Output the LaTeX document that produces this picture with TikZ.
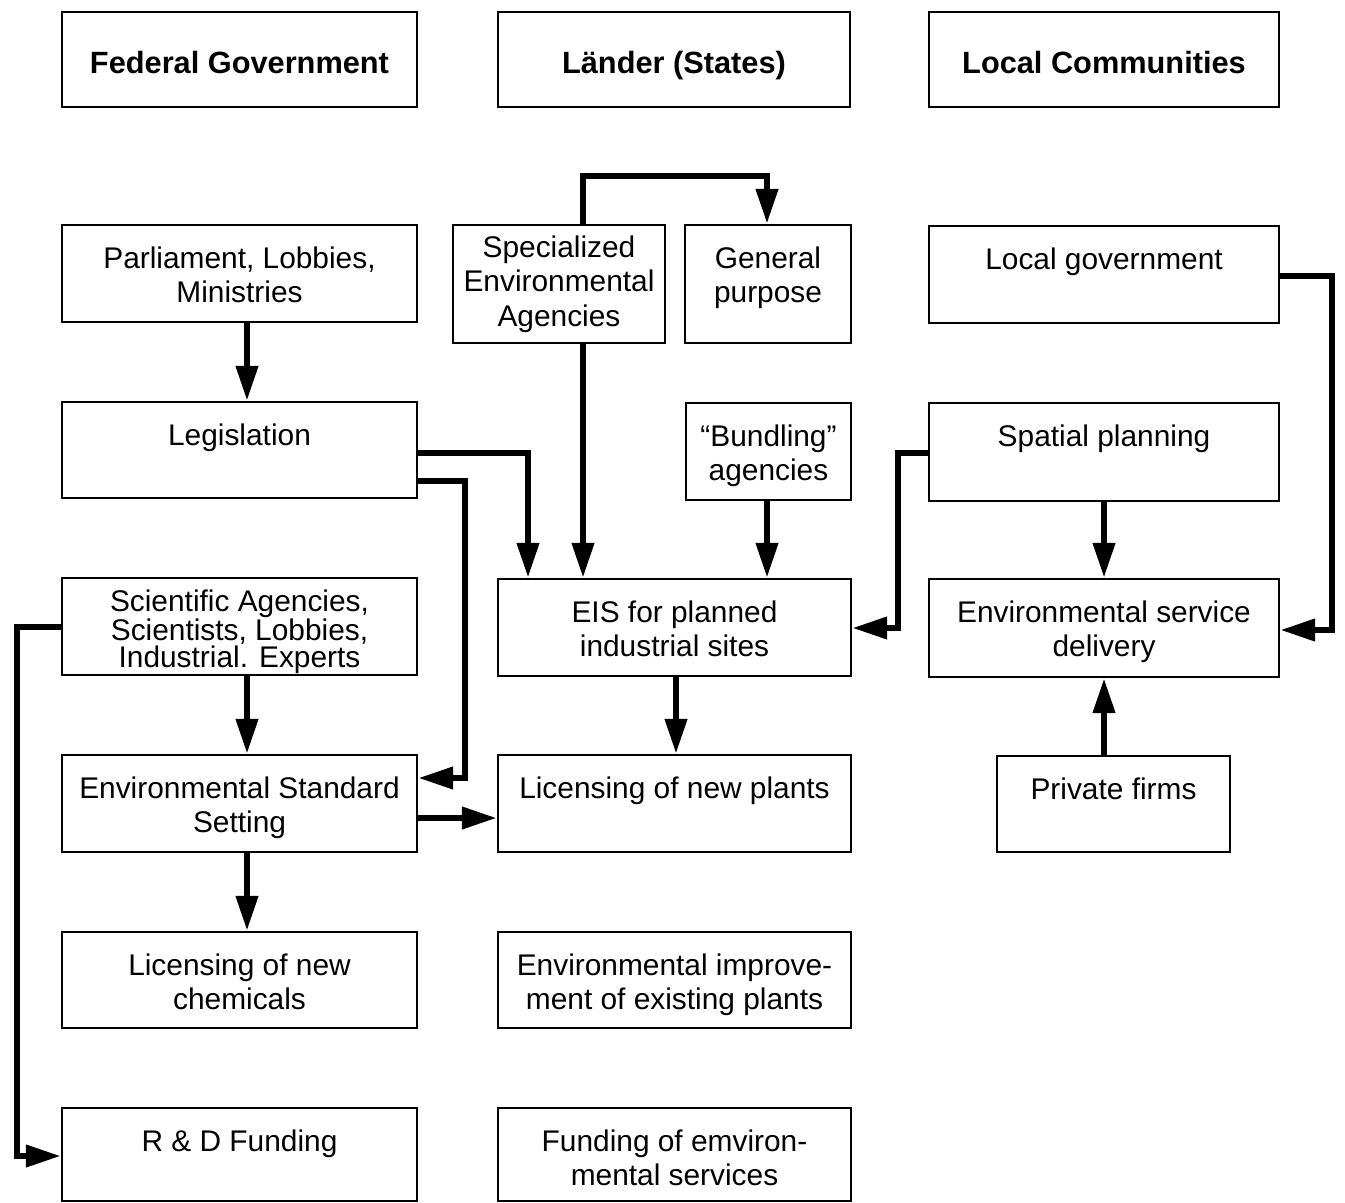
\documentclass[tikz,border=0pt]{standalone}
\usepackage{fontspec}
\setmainfont{Liberation Sans}
\usetikzlibrary{arrows.meta,fit}
\begin{document}
\begin{tikzpicture}[x=0.02cm,y=-0.02cm,
  box/.style={draw, line width=1.1pt, inner sep=0pt, rectangle},
  hlbl/.style={anchor=center, inner sep=0pt, yshift=-0.13cm,
               text height=12.5pt, text depth=3.5pt,
               font=\fontsize{17.5}{20}\selectfont\bfseries},
  lbl/.style={anchor=north, inner sep=0pt, align=center, yshift=-0.44cm,
              font=\fontsize{17}{19.8}\selectfont},
  arr/.style={line width=3.8pt, line join=miter,
              -{Triangle[length=20pt,width=12pt]}}]
\useasboundingbox (0,0) rectangle (1345,1203);

% column headers
\node[box, fit={(62,12) (417,107)}, label={[hlbl]center:{Federal Government}}]   (fed) {};
\node[box, fit={(498,12) (850,107)}, label={[hlbl]center:{Länder (States)}}]     (lan) {};
\node[box, fit={(929,12) (1279,107)}, label={[hlbl]center:{Local Communities}}]  (loc) {};

% federal column
\node[box, fit={(62,225) (417,322)}, label={[lbl]north:{Parliament, Lobbies,\\Ministries}}] (parl) {};
\node[box, fit={(62,402) (417,498)}, label={[lbl]north:{Legislation}}] (legis) {};
\node[box, fit={(62,578) (417,675)}, label={[lbl, yshift=0.2cm, font=\fontsize{17}{15.4}\selectfont]north:{Scientific Agencies,\\Scientists, Lobbies,\\Industrial. Experts}}] (sci) {};
\node[box, fit={(62,755) (417,852)}, label={[lbl]north:{Environmental Standard\\Setting}}] (std) {};
\node[box, fit={(62,932) (417,1028)}, label={[lbl]north:{Licensing of new\\chemicals}}] (chem) {};
\node[box, fit={(62,1108) (417,1201)}, label={[lbl]north:{R \& D Funding}}] (rd) {};

% state column
\node[box, fit={(453,225) (665,343)}, label={[lbl, yshift=0.22cm]north:{Specialized\\Environmental\\Agencies}}] (spec) {};
\node[box, fit={(685,225) (851,343)}, label={[lbl]north:{General\\purpose}}] (gen) {};
\node[box, fit={(686,403) (851,500)}, label={[lbl]north:{“Bundling”\\agencies}}] (bund) {};
\node[box, fit={(498,579) (851,676)}, label={[lbl]north:{EIS for planned\\industrial sites}}] (eis) {};
\node[box, fit={(498,755) (851,852)}, label={[lbl]north:{Licensing of new plants}}] (plants) {};
\node[box, fit={(498,932) (851,1028)}, label={[lbl]north:{Environmental improve-\\ment of existing plants}}] (impr) {};
\node[box, fit={(498,1108) (851,1201)}, label={[lbl]north:{Funding of emviron-\\mental services}}] (fund) {};

% local column
\node[box, fit={(929,226) (1279,323)}, label={[lbl]north:{Local government}}] (lgov) {};
\node[box, fit={(929,403) (1279,501)}, label={[lbl]north:{Spatial planning}}] (spat) {};
\node[box, fit={(929,579) (1279,677)}, label={[lbl]north:{Environmental service\\delivery}}] (svc) {};
\node[box, fit={(997,756) (1230,852)}, label={[lbl]north:{Private firms}}] (priv) {};

% bend points and arrow lanes
\coordinate (kcol) at (247,0);
\coordinate (kSG1) at (583,176);
\coordinate (kSG2) at (767,176);
\coordinate (kLE)  at (528,453);
\coordinate (kLS1) at (465,481);
\coordinate (kLS2) at (465,778);
\coordinate (kSE1) at (898,453);
\coordinate (kSE2) at (898,628);
\coordinate (kLG1) at (1332,276);
\coordinate (kLG2) at (1332,630);
\coordinate (kSP)  at (0,818);
\coordinate (kSR1) at (17,627);
\coordinate (kSR2) at (17,1156);
\coordinate (kEP)  at (676,0);

% connectors
\draw[arr] (parl.south -| kcol) -- (legis.north -| kcol);
\draw[arr] (sci.south -| kcol) -- (std.north -| kcol);
\draw[arr] (std.south -| kcol) -- (chem.north -| kcol);
\draw[arr] (spec.north -| kSG1) -- (kSG1) -- (kSG2) -- (gen.north -| kSG2);
\draw[arr] (spec.south -| kSG1) -- (eis.north -| kSG1);
\draw[arr] (bund.south -| kSG2) -- (eis.north -| kSG2);
\draw[arr] (legis.east |- kLE) -| (eis.north -| kLE);
\draw[arr] (legis.east |- kLS1) -- (kLS1) -- (kLS2) -- (std.east |- kLS2);
\draw[arr] (spat.west |- kSE1) -- (kSE1) -- (kSE2) -- (eis.east |- kSE2);
\draw[arr] (spat.south -| svc.north) -- (svc.north);
\draw[arr] (lgov.east |- kLG1) -- (kLG1) -- (kLG2) -- (svc.east |- kLG2);
\draw[arr] (priv.north -| svc.south) -- (svc.south);
\draw[arr] (eis.south -| kEP) -- (plants.north -| kEP);
\draw[arr] (std.east |- kSP) -- (plants.west |- kSP);
\draw[arr] (sci.west |- kSR1) -- (kSR1) -- (kSR2) -- (rd.west |- kSR2);
\end{tikzpicture}
\end{document}
